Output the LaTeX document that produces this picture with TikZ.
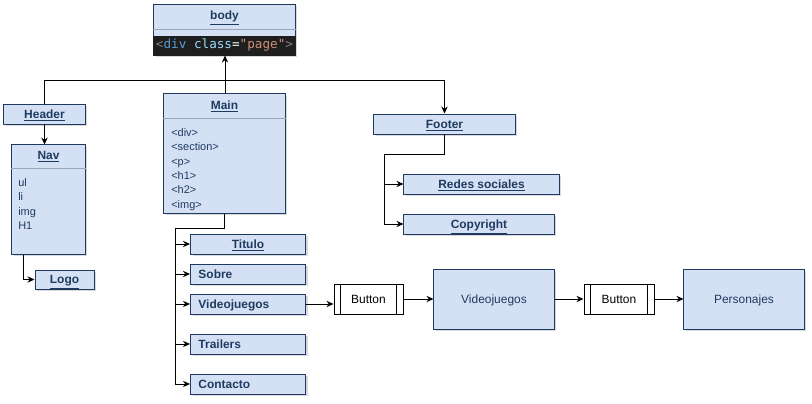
\documentclass[tikz,border=0pt]{standalone}
\usepackage{fontspec}
\setmainfont{Liberation Sans}
\setmonofont{DejaVu Sans Mono}
\usetikzlibrary{arrows.meta,shadows,positioning,calc}
\definecolor{boxfill}{HTML}{D4E1F5}
\definecolor{boxline}{HTML}{1F3A60}
\definecolor{labelblue}{HTML}{1F3A60}
\definecolor{codebg}{HTML}{1E1E1E}
\definecolor{codetag}{HTML}{808080}
\definecolor{codekey}{HTML}{569CD6}
\definecolor{codeattr}{HTML}{9CDCFE}
\definecolor{codestr}{HTML}{CE9178}
\begin{document}
\begin{tikzpicture}[x=0.025cm, y=-0.025cm,
    >={Stealth[length=5pt,width=4.5pt]},
    blockbox/.style={draw=boxline, fill=boxfill, line width=0.7pt, inner sep=0pt,
      drop shadow={opacity=0.3, shadow xshift=1.5pt, shadow yshift=-1.5pt},
      text=labelblue, font=\fontsize{8.5}{10}\selectfont\bfseries,
      text height=1.55ex, text depth=0.35ex},
    childbox/.style={blockbox, minimum height=0.5cm, text width=2.475cm,
      inner xsep=0.2cm, align=left},
    titletext/.style={text=labelblue, font=\fontsize{8.5}{10}\selectfont\bfseries,
      text height=1.55ex, text depth=0.35ex, inner sep=0pt},
    itemtext/.style={text=labelblue, font=\fontsize{7.8}{9}\selectfont, anchor=west,
      inner sep=0pt, text height=1.55ex, text depth=0.35ex},
    pagebox/.style={blockbox, font=\fontsize{8.5}{10}\selectfont, minimum width=3cm, minimum height=1.5cm},
    buttonbox/.style={draw, fill=white, line width=0.7pt, minimum width=1.75cm,
      minimum height=0.75cm, font=\fontsize{8.5}{10}\selectfont},
    sepline/.style={draw=boxline!45, line width=0.7pt},
    link/.style={draw, line width=0.65pt}]
  \useasboundingbox (0,0) rectangle (812,403);

  % body with its code line
  \node[blockbox, minimum width=3.525cm, minimum height=1.275cm] (body) at (224.5,29.5) {};
  \node[titletext] (bodyt) at (224.5,15) {\underline{body}};
  \draw[sepline] (body.west |- 0,29) -- (body.east |- 0,29);
  \fill[codebg] (body.west |- 0,36) rectangle (body.south east);
  \node[font=\ttfamily\fontsize{9}{10}\selectfont, inner sep=0pt] (code) at (224.5,45.5)
    {{\color{codetag}<}{\color{codekey}div} {\color{codeattr}class}{\color{white}=}{\color{codestr}"page"}{\color{codetag}>}};

  % header and nav
  \node[blockbox, minimum width=2.025cm, minimum height=0.5cm] (header) at (44.5,114) {\underline{Header}};
  \node[blockbox, minimum width=1.825cm, minimum height=2.725cm] (nav) at (48.5,199.5) {};
  \node[titletext] (navt) at (48.5,155) {\underline{Nav}};
  \draw[sepline] (nav.west |- 0,168) -- (nav.east |- 0,168);
  \foreach \item [count=\k] in {ul,li,img,H1}
    \node[itemtext] (nav\k) at (18,167.5+14.5*\k) {\item};
  \node[blockbox, minimum width=1.475cm, minimum height=0.475cm] (logo) at (64.5,279.5) {\underline{Logo}};

  % main
  \node[blockbox, minimum width=3.025cm, minimum height=2.975cm] (main) at (224.5,153.5) {};
  \node[titletext] (maint) at (224.5,105) {\underline{Main}};
  \draw[sepline] (main.west |- 0,118) -- (main.east |- 0,118);
  \foreach \tag [count=\k] in {div,section,p,h1,h2,img}
    \node[itemtext] (tag\k) at (171,117.5+14.4*\k) {<\tag>};
  \node[childbox, align=center] (titulo) at (248,244) {\underline{Titulo}};
  \node[childbox] (sobre) at (248,274) {Sobre};
  \node[childbox] (videojuegos) at (248,304) {Videojuegos};
  \node[childbox] (trailers) at (248,344) {Trailers};
  \node[childbox] (contacto) at (248,384) {Contacto};

  % footer
  \node[blockbox, minimum width=3.525cm, minimum height=0.5cm] (footer) at (444.5,124) {\underline{Footer}};
  \node[blockbox, minimum width=3.875cm, minimum height=0.5cm] (redes) at (481.5,184) {\underline{Redes sociales}};
  \node[blockbox, minimum width=3.75cm, minimum height=0.5cm] (copyright) at (479,224) {\underline{Copyright}};

  % pages behind the buttons
  \node[buttonbox, minimum width=1.725cm] (btnvideo) at (368.5,299) {Button};
  \node[pagebox] (pagevideo) at (494,299) {Videojuegos};
  \node[buttonbox] (btnperso) at (619,299) {Button};
  \node[pagebox] (pageperso) at (744,299) {Personajes};
  \foreach \b in {btnvideo,btnperso}{
    \draw[line width=0.7pt] ([xshift=0.175cm]\b.north west) -- ([xshift=0.175cm]\b.south west);
    \draw[line width=0.7pt] ([xshift=-0.175cm]\b.north east) -- ([xshift=-0.175cm]\b.south east);
  }

  % connectors
  \coordinate (hub) at (225,80);
  \coordinate (mainbus) at (175,228);
  \coordinate (footbus) at (384,154);
  \draw[link, ->] (main.north -| hub) -- (body.south -| hub);
  \draw[link] (header.north) |- (hub);
  \draw[link, ->] (hub) -| (footer.north);
  \draw[link, ->] (header.south) -- (header.south |- nav.north);
  \draw[link, ->] (nav.south west) ++(12,0) |- (logo.west);
  \draw[link, ->] (main.south) |- (mainbus) |- (contacto.west);
  \foreach \n in {titulo,sobre,videojuegos,trailers}
    \draw[link, ->] (mainbus |- \n.west) -- (\n.west);
  \draw[link, ->] (footer.south) |- (footbus) |- (copyright.west);
  \draw[link, ->] (footbus |- redes.west) -- (redes.west);
  \draw[link, ->] (videojuegos.east) -- (videojuegos.east -| btnvideo.west);
  \draw[link, ->] (btnvideo) -- (pagevideo);
  \draw[link, ->] (pagevideo) -- (btnperso);
  \draw[link, ->] (btnperso) -- (pageperso);
\end{tikzpicture}
\end{document}
